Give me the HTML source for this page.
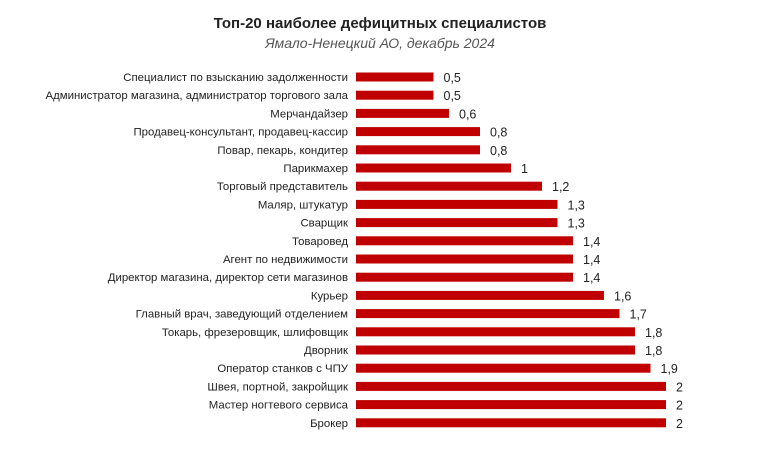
<!DOCTYPE html>
<html><head><meta charset="utf-8"><style>
body{margin:0;width:760px;height:470px;background:#fff;overflow:hidden;font-family:"Liberation Sans",sans-serif;}
</style></head><body>
<svg width="760" height="470" xmlns="http://www.w3.org/2000/svg" font-family="Liberation Sans, sans-serif">
<text x="380" y="28" text-anchor="middle" font-size="15" font-weight="bold" fill="#222">Топ-20 наиболее дефицитных специалистов</text>
<text x="380" y="48" text-anchor="middle" font-size="14" font-style="italic" fill="#555">Ямало-Ненецкий АО, декабрь 2024</text>
<g id="rows"></g>
</svg>
<script>
const d=[["Специалист по взысканию задолженности",0.5],["Администратор магазина, администратор торгового зала",0.5],["Мерчандайзер",0.6],["Продавец-консультант, продавец-кассир",0.8],["Повар, пекарь, кондитер",0.8],["Парикмахер",1],["Торговый представитель",1.2],["Маляр, штукатур",1.3],["Сварщик",1.3],["Товаровед",1.4],["Агент по недвижимости",1.4],["Директор магазина, директор сети магазинов",1.4],["Курьер",1.6],["Главный врач, заведующий отделением",1.7],["Токарь, фрезеровщик, шлифовщик",1.8],["Дворник",1.8],["Оператор станков с ЧПУ",1.9],["Швея, портной, закройщик",2],["Мастер ногтевого сервиса",2],["Брокер",2]];
let s="";d.forEach((r,i)=>{const y=77+i*18.2,w=r[1]*155;
s+=`<text x="348" y="${y+4}" text-anchor="end" font-size="11.4" fill="#222">${r[0]}</text><rect x="356" y="${y-4.5}" width="${w}" height="9" fill="#c00000"/><text x="${356+w+10}" y="${y+5}" font-size="12.5" fill="#222">${String(r[1]).replace('.',',')}</text>`;});
document.getElementById("rows").innerHTML=s;
</script>
</body></html>
